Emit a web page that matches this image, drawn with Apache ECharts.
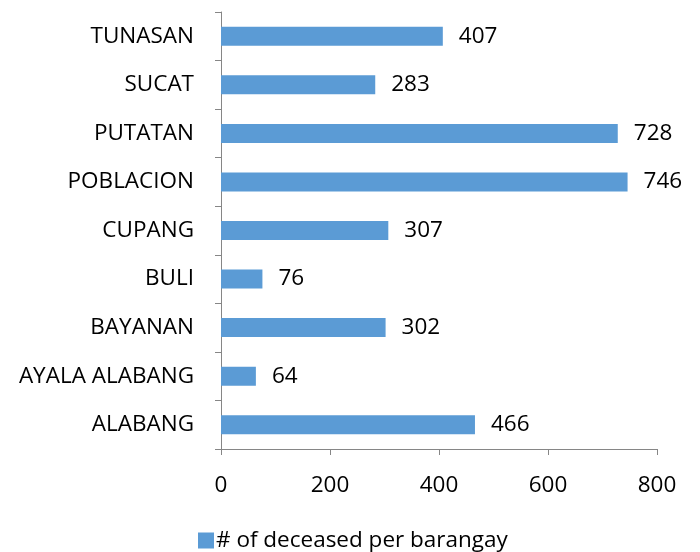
<!DOCTYPE html>
<html><head><meta charset="utf-8">
<script src="https://cdn.jsdelivr.net/npm/echarts@6/dist/echarts.min.js"></script>
<style>html,body{margin:0;padding:0;background:#fff}#c{width:700px;height:552px}</style>
</head><body><div id="c"></div>
<script>
const categories = ["ALABANG","AYALA ALABANG","BAYANAN","BULI","CUPANG","POBLACION","PUTATAN","SUCAT","TUNASAN"];
const values = [466,64,302,76,307,746,728,283,407];
const seriesName = "# of deceased per barangay";
const xTicks = {min:0, max:800, interval:200};
const font = "'Open Sans', sans-serif";
const fs = 22.5;
const chart = echarts.init(document.getElementById('c'));
chart.setOption({
  animation:false,
  grid:{left:221,right:43,top:12,bottom:103},
  xAxis:{type:'value',min:xTicks.min,max:xTicks.max,interval:xTicks.interval,
    axisLine:{show:true,lineStyle:{color:'#868686',width:1}},
    axisTick:{show:true,length:6,lineStyle:{color:'#868686'}},
    splitLine:{show:false},
    axisLabel:{color:'#000',fontSize:fs,fontFamily:font,margin:25}},
  yAxis:{type:'category',data:categories,
    axisLine:{show:true,lineStyle:{color:'#868686',width:1}},
    axisTick:{show:true,length:6,alignWithLabel:false,lineStyle:{color:'#868686'}},
    axisLabel:{color:'#000',fontSize:fs,fontFamily:font,margin:27}},
  legend:{bottom:-5,left:193,itemWidth:16,itemHeight:16,itemGap:4,
    textStyle:{color:'#000',fontSize:fs,fontFamily:font,padding:[0,0,0,-3]},
    icon:'rect',data:[seriesName]},
  series:[{name:seriesName,type:'bar',data:values,barWidth:19,
    itemStyle:{color:'#5B9BD5'},
    label:{show:true,position:'right',distance:16,color:'#000',fontSize:fs,fontFamily:font}}]
});
</script></body></html>
